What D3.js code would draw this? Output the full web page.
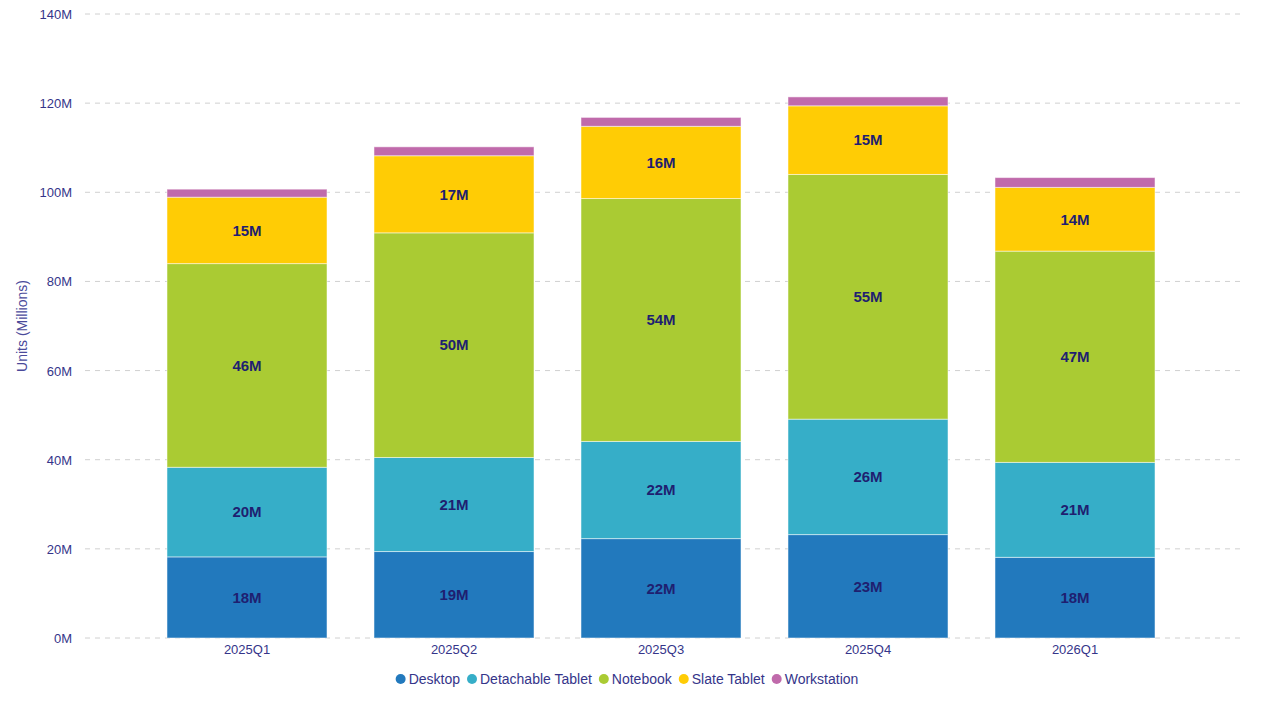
<!DOCTYPE html>
<html lang="en">
<head>
  <meta charset="UTF-8">
  <title>Units by Quarter</title>
  <script src="https://d3js.org/d3.v7.min.js"></script>
  <style>
    body { margin: 0; background: #fff; }
    text { font-family: "Liberation Sans", Arial, sans-serif; }
  </style>
</head>
<body>
  <script>
    // Chart data (millions of units)
    const quarters = ["2025Q1", "2025Q2", "2025Q3", "2025Q4", "2026Q1"];
    const seriesNames = ["Desktop", "Detachable Tablet", "Notebook", "Slate Tablet", "Workstation"];
    const desktop = [18.2, 19.4, 22.3, 23.2, 18.1];
    const detachable = [20.1, 21.1, 21.8, 25.9, 21.3];
    const notebook = [45.7, 50.4, 54.5, 54.9, 47.4];
    const slate = [14.9, 17.3, 16.2, 15.4, 14.3];
    const workstation = [1.8, 2.0, 2.0, 2.0, 2.2];
    const yTicks = [0, 20, 40, 60, 80, 100, 120, 140];

    const colors = ["#2279bd", "#36aec8", "#aacb33", "#ffcc05", "#c06aab"];
    const valuesBySeries = [desktop, detachable, notebook, slate, workstation];

    // Build rows for d3.stack
    const rows = quarters.map((q, i) => {
      const r = { quarter: q };
      seriesNames.forEach((s, j) => { r[s] = valuesBySeries[j][i]; });
      return r;
    });

    const width = 1262, height = 720;
    const plotLeft = 85, plotRight = 1243, plotTop = 14, plotBottom = 638;

    const svg = d3.select("body").append("svg")
      .attr("width", width)
      .attr("height", height);

    const x = d3.scaleBand()
      .domain(quarters)
      .range([143.5, 1178.5])
      .paddingInner(0.227)
      .paddingOuter(0.1135);

    const y = d3.scaleLinear()
      .domain([0, 140])
      .range([plotBottom, plotTop]);

    // Gridlines
    svg.append("g")
      .selectAll("line")
      .data(yTicks)
      .join("line")
      .attr("x1", plotLeft)
      .attr("x2", plotRight)
      .attr("y1", d => y(d))
      .attr("y2", d => y(d))
      .attr("stroke", "#d0d0d0")
      .attr("stroke-width", 1)
      .attr("stroke-dasharray", "5,5");

    // Y axis labels
    const yAxis = svg.append("g")
      .attr("transform", `translate(${plotLeft - 10},0)`)
      .call(d3.axisLeft(y).tickValues(yTicks).tickFormat(d => d + "M").tickSize(0));
    yAxis.select(".domain").remove();
    yAxis.selectAll("text")
      .attr("fill", "#35358a")
      .style("font-size", "13px")
      .attr("dy", "0.35em");

    svg.append("text")
      .attr("transform", `translate(27,${(plotTop + plotBottom) / 2}) rotate(-90)`)
      .attr("text-anchor", "middle")
      .attr("fill", "#4a4a9a")
      .style("font-size", "14px")
      .text("Units (Millions)");

    // Stacked bars
    const stacked = d3.stack().keys(seriesNames)(rows);

    const layer = svg.append("g")
      .selectAll("g")
      .data(stacked)
      .join("g")
      .attr("fill", (d, i) => colors[i]);

    layer.selectAll("rect")
      .data(d => d)
      .join("rect")
      .attr("x", d => x(d.data.quarter))
      .attr("width", x.bandwidth())
      .attr("y", d => y(d[1]))
      .attr("height", d => y(d[0]) - y(d[1]))
      .attr("stroke", "rgba(255,255,255,0.5)")
      .attr("stroke-width", 1);

    // Value labels (skip workstation, too thin)
    layer.filter((d, i) => i < 4)
      .selectAll("text")
      .data(d => d)
      .join("text")
      .attr("x", d => x(d.data.quarter) + x.bandwidth() / 2)
      .attr("y", d => (y(d[0]) + y(d[1])) / 2)
      .attr("dy", "0.35em")
      .attr("text-anchor", "middle")
      .attr("fill", "#1f1f70")
      .style("font-size", "15px")
      .style("font-weight", "bold")
      .text(d => Math.round(d[1] - d[0]) + "M");

    // X axis labels
    const xAxis = svg.append("g")
      .attr("transform", `translate(0,${plotBottom})`)
      .call(d3.axisBottom(x).tickSize(0).tickPadding(7));
    xAxis.select(".domain").remove();
    xAxis.selectAll("text")
      .attr("fill", "#35358a")
      .style("font-size", "13px");

    // Legend
    const legend = svg.append("g").attr("transform", "translate(0,679)");
    let lx = 0;
    const items = [];
    seriesNames.forEach((s, i) => {
      const g = legend.append("g");
      g.append("circle").attr("cx", 5).attr("cy", 0).attr("r", 5).attr("fill", colors[i]);
      const t = g.append("text")
        .attr("x", 13)
        .attr("dy", "0.35em")
        .attr("fill", "#35358a")
        .style("font-size", "14px")
        .text(s);
      const w = 13 + t.node().getComputedTextLength();
      g.attr("transform", `translate(${lx},0)`);
      lx += w + 7;
      items.push(g);
    });
    const totalW = lx - 7;
    legend.attr("transform", `translate(${627 - totalW / 2},679)`);
  </script>
</body>
</html>
